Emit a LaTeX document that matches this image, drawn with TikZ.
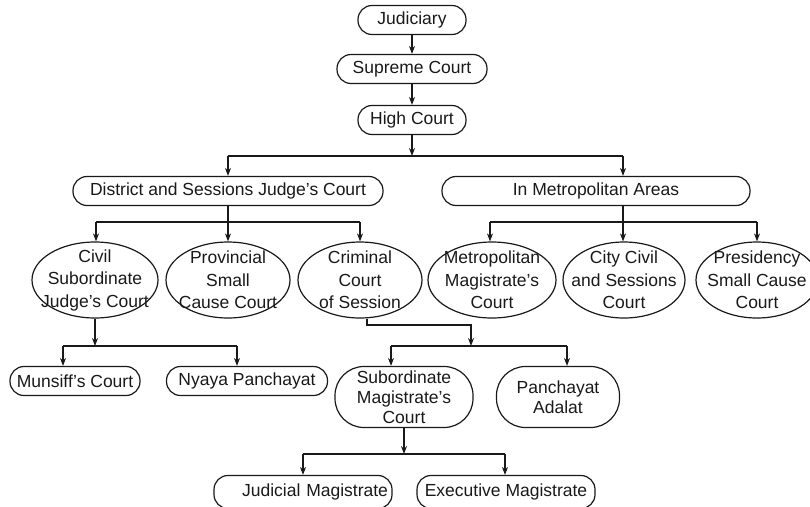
\documentclass[tikz,border=0pt]{standalone}
\usepackage{fontspec}
\setmainfont{Liberation Sans}
\usetikzlibrary{arrows.meta,shapes.geometric}
\tikzset{
  pill/.style={draw, rounded corners=14pt, minimum height=29pt, inner xsep=4pt, inner ysep=0pt},
  oval/.style={draw, ellipse, minimum width=124pt, minimum height=76pt, inner sep=0pt},
  ovaltext/.style={align=center, inner sep=0pt},
  blob/.style={draw, rounded corners=29pt, minimum height=61pt, inner sep=0pt, align=center,
    font=\fontsize{17.5}{20}\selectfont},
}
\begin{document}
\begin{tikzpicture}[x=1pt, y=-1pt, line width=1.2pt, draw=black!90, >={Stealth[length=8pt,width=6pt]},
    every node/.style={font=\fontsize{17.5}{22.5}\selectfont, text=black!90}]
        \useasboundingbox (0,0) rectangle (810,506);
        % Top of the chart
        \node[pill, minimum width=108pt] (jud) at (412,20) {Judiciary};
        \node[pill, minimum width=150pt] (sup) at (412,69) {Supreme Court};
        \node[pill, minimum width=108pt] (high) at (412,120) {High Court};
        \draw[->] (jud) -- (sup);
        \draw[->] (sup) -- (high);
        % First split
        \node[pill, minimum width=310pt] (dist) at (228,191) {District and Sessions Judge’s Court};
        \node[pill, minimum width=308pt] (metro) at (596,191) {In Metropolitan Areas};
        \coordinate (b1l) at (228,156);
        \coordinate (b1m) at (412,156);
        \coordinate (b1r) at (623,156);
        \draw[->] (high) -- (b1m);
        \draw (b1l) -- (b1r);
        \draw[->] (b1l) -- (b1l |- dist.north);
        \draw[->] (b1r) -- (b1r |- metro.north);
        % District courts
        \node[oval, minimum width=126pt, label={[ovaltext]center:Civil\\Subordinate\\Judge’s Court}] (civil) at (95,280) {};
        \node[oval, label={[ovaltext]center:Provincial\\Small\\Cause Court}] (prov) at (228,280) {};
        \node[oval, label={[ovaltext]center:Criminal\\Court\\of Session}] (crim) at (360,280) {};
        \coordinate (b2l) at (96,222);
        \coordinate (b2r) at (360,222);
        \draw (b2l) -- (b2r);
        \draw[->] (dist) -- (prov);
        \draw[->] (b2l) -- (b2l |- civil.north);
        \draw[->] (b2r) -- (crim.north);
        % Metropolitan courts
        \node[oval, minimum width=128pt, label={[ovaltext]center:Metropolitan\\Magistrate’s\\Court}] (mmag) at (492,280) {};
        \node[oval, minimum width=122pt, label={[ovaltext]center:City Civil\\and Sessions\\Court}] (city) at (624,280) {};
        \node[oval, minimum width=122pt, label={[ovaltext]center:Presidency\\Small Cause\\Court}] (pres) at (757,280) {};
        \coordinate (b3l) at (490,222);
        \coordinate (b3m) at (623,222);
        \coordinate (b3r) at (757,222);
        \draw (b3l) -- (b3r);
        \draw (metro.south -| b3m) -- (b3m);
        \draw[->] (b3m) -- (b3m |- city.north);
        \draw[->] (b3l) -- (b3l |- mmag.north);
        \draw[->] (b3r) -- (pres.north);
        % Civil branch
        \node[pill, minimum width=130pt] (mun) at (75,381) {Munsiff’s Court};
        \node[pill, minimum width=161pt] (nyaya) at (247,381) {Nyaya Panchayat};
        \coordinate (b4m) at (95,346);
        \coordinate (b4l) at (63,346);
        \coordinate (b4r) at (237,346);
        \draw[->] (civil) -- (b4m);
        \draw (b4l) -- (b4r);
        \draw[->] (b4l) -- (b4l |- mun.north);
        \draw[->] (b4r) -- (b4r |- nyaya.north);
        % Criminal branch
        \node[blob, minimum width=138pt] (subm) at (404,397) {Subordinate\\Magistrate’s\\Court};
        \node[blob, minimum width=123pt] (adalat) at (558,397) {Panchayat\\Adalat};
        \coordinate (c1) at (367,325);
        \coordinate (b5m) at (471,346);
        \coordinate (b5l) at (391,346);
        \coordinate (b5r) at (567,346);
        \draw[->] (c1 |- crim.south) -- (c1) -| (b5m);
        \draw (b5l) -- (b5r);
        \draw[->] (b5l) -- (b5l |- subm.north);
        \draw[->] (b5r) -- (b5r |- adalat.north);
        % Magistrates
        \node[pill, minimum height=33pt, text width=170pt, align=right, inner xsep=4pt] (judm) at (303,492) {Judicial Magistrate};
        \node[pill, minimum height=33pt, minimum width=178pt] (exem) at (506,492) {Executive Magistrate};
        \coordinate (b6m) at (404,454);
        \coordinate (b6l) at (303,454);
        \coordinate (b6r) at (505,454);
        \draw[->] (subm) -- (b6m);
        \draw (b6l) -- (b6r);
        \draw[->] (b6l) -- (judm.north);
        \draw[->] (b6r) -- (b6r |- exem.north);
    \end{tikzpicture}
\end{document}
